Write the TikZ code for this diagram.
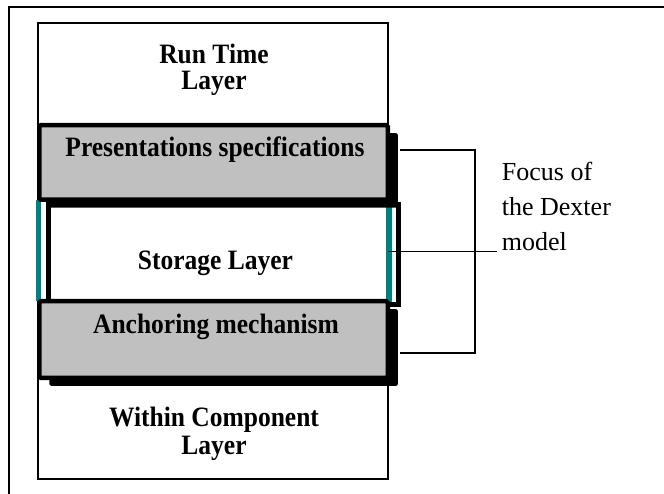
\documentclass[tikz,border=0pt]{standalone}
\usepackage{fontspec}
\setmainfont{Liberation Serif}
\usetikzlibrary{shadows}
\definecolor{layergray}{RGB}{192,192,192}
\definecolor{edgeteal}{RGB}{0,128,128}
\newcommand{\tallbold}[1]{\scalebox{1}[1.1]{\bfseries #1}}
\begin{document}
\begin{tikzpicture}[x=1pt,y=-1pt,
  colbox/.style={draw, line width=1.5pt, fill=white, inner sep=0pt},
  storebox/.style={draw, line width=5pt, fill=white, inner sep=0pt},
  graybox/.style={draw, line width=4.5pt, fill=layergray, rounded corners=1.5pt, inner sep=0pt,
    general shadow={shadow xshift=10pt, shadow yshift=-8pt, fill=black}},
  tealedge/.style={draw=edgeteal, line width=5pt},
  layertext/.style={inner sep=0pt, anchor=base, font=\fontsize{25.5}{27}\selectfont},
  notetext/.style={inner sep=0pt, anchor=base west, font=\fontsize{26}{30}\selectfont},
  thin/.style={line width=1.2pt}
]
\useasboundingbox (0,0) rectangle (664,494);

% outer frame (only top and left edges fall inside the page)
\draw[line width=2pt] (664,7.5) -- (8.5,7.5) -- (8.5,494);

% column holding all layers
\node[colbox, minimum width=350pt, minimum height=456pt] (col) at (213,251) {};

% storage layer frame behind the grey bands
\node[storebox, minimum width=350pt, minimum height=100pt] (store) at (223.5,255) {};
\draw[tealedge] (38.5,200) -- (38.5,301);
\draw[tealedge, line width=6pt] (388.5,205) -- (388.5,302);

% grey bands, each with its drop shadow
\node[graybox, minimum width=348.5pt, minimum height=74.5pt] (pres) at (213.5,162.5) {};
\node[graybox, minimum width=348.5pt, minimum height=76.5pt] (anch) at (213.5,339.5) {};

% layer labels
\node[layertext] (rt1) at (214,63.3) {\tallbold{Run Time}};
\node[layertext] (rt2) at (214,90) {\tallbold{Layer}};
\node[layertext] (prestext) at (215,156.7) {\tallbold{Presentations specifications}};
\node[layertext] (storetext) at (215.5,270) {\tallbold{Storage Layer}};
\node[layertext] (anchtext) at (216,334) {\tallbold{Anchoring mechanism}};
\node[layertext] (wc1) at (214,426.7) {\tallbold{Within Component}};
\node[layertext] (wc2) at (214,454) {\tallbold{Layer}};

% note on the right
\node[notetext] (focus1) at (501.7,180.7) {Focus of};
\node[notetext] (focus2) at (501.7,216) {the Dexter};
\node[notetext] (focus3) at (501.7,250.5) {model};

% bracket spanning the three middle bands
\coordinate (brtop) at (400,150);
\coordinate (brbot) at (400,353);
\draw[thin] (brtop) -- ++(75,0) |- (brbot);

% pointer from the storage layer to the note
\coordinate (hook) at (388,251.5);
\draw[thin] (hook) -- ([xshift=-4.5pt]focus3.base west |- hook);
\end{tikzpicture}
\end{document}
